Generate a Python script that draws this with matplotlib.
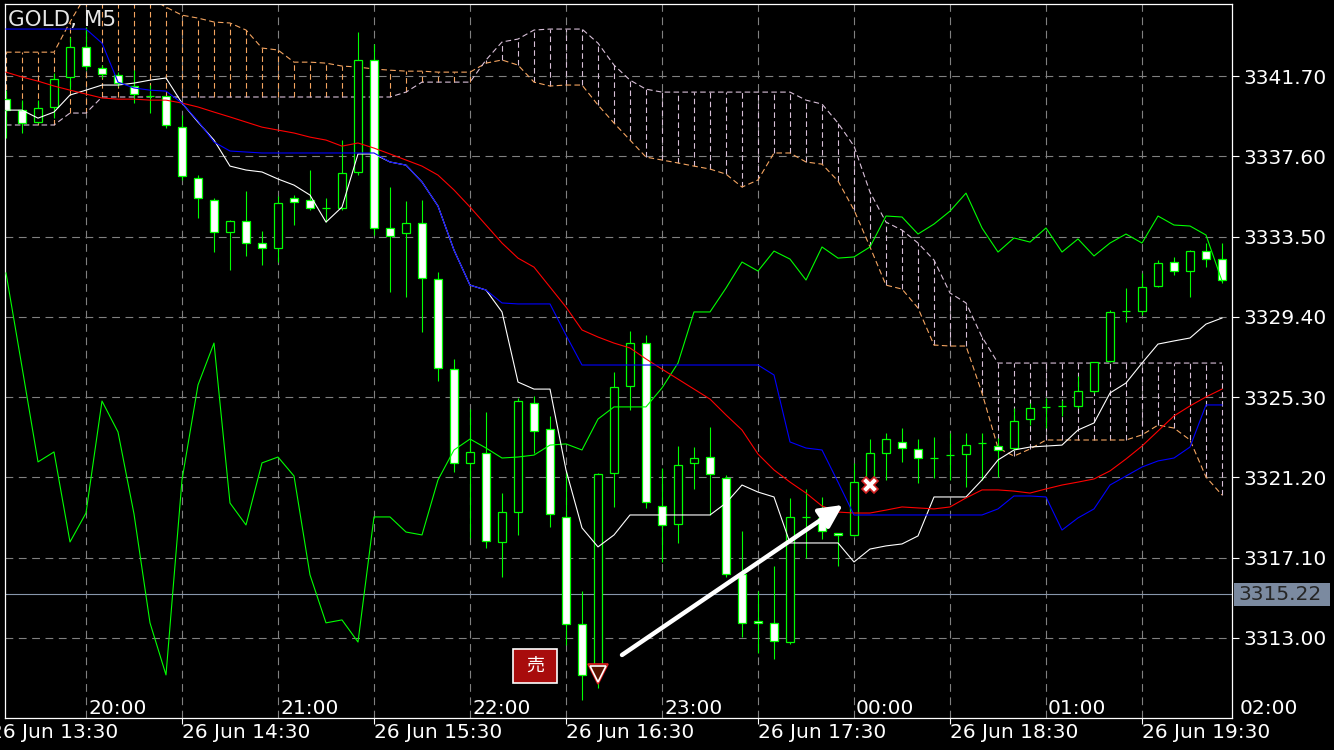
import matplotlib
matplotlib.use("Agg")
import matplotlib.pyplot as plt
from matplotlib.patches import Rectangle
import numpy as np

SYMBOL = "GOLD, M5"

# 5-minute candles, oldest first
opens = [3340.52, 3339.96, 3339.35, 3340.12, 3341.65, 3343.18, 3342.11, 3341.75, 3341.19, 3340.68,
         3340.68, 3339.09, 3336.49, 3335.37, 3333.73, 3334.29, 3333.17, 3332.92, 3335.47, 3335.37,
         3334.96, 3334.96, 3336.80, 3342.52, 3333.94, 3333.68, 3334.19, 3331.33, 3326.73, 3321.94,
         3322.45, 3317.90, 3319.43, 3325.00, 3323.67, 3319.18, 3313.71, 3311.52, 3321.42, 3325.87,
         3328.06, 3319.74, 3318.82, 3321.94, 3322.24, 3321.17, 3316.27, 3313.87, 3313.77, 3312.79,
         3319.18, 3319.13, 3318.36, 3318.26, 3321.07, 3322.45, 3323.01, 3322.65, 3322.19, 3322.34,
         3322.39, 3322.96, 3322.80, 3322.70, 3324.18, 3324.80, 3324.85, 3324.85, 3325.61, 3327.14,
         3329.70, 3329.70, 3330.97, 3332.20, 3331.74, 3332.76, 3332.35]
highs = [3340.98, 3340.47, 3340.47, 3341.85, 3343.69, 3344.20, 3342.26, 3341.90, 3342.00, 3341.24,
         3340.68, 3339.71, 3336.64, 3335.47, 3334.34, 3335.83, 3333.78, 3335.57, 3335.62, 3336.90,
         3335.47, 3338.43, 3343.95, 3343.33, 3336.03, 3335.31, 3335.37, 3331.69, 3327.25, 3324.69,
         3324.54, 3320.40, 3325.25, 3325.36, 3324.34, 3321.48, 3315.40, 3321.42, 3326.58, 3328.68,
         3328.47, 3321.68, 3322.80, 3322.75, 3323.77, 3321.32, 3318.46, 3315.40, 3316.67, 3320.15,
         3320.61, 3320.20, 3318.36, 3321.94, 3323.16, 3323.47, 3323.72, 3323.16, 3323.26, 3323.47,
         3323.47, 3323.47, 3323.21, 3324.74, 3325.00, 3325.25, 3325.15, 3326.38, 3327.09, 3329.75,
         3330.87, 3331.64, 3332.30, 3332.46, 3332.81, 3333.17, 3333.17]
lows = [3338.53, 3338.79, 3339.30, 3339.55, 3340.98, 3342.00, 3341.60, 3341.19, 3340.32, 3339.81,
        3339.04, 3336.39, 3334.45, 3332.71, 3331.79, 3332.51, 3332.05, 3332.20, 3334.09, 3334.86,
        3334.24, 3334.86, 3336.64, 3333.58, 3330.67, 3330.41, 3328.63, 3326.12, 3321.48, 3318.10,
        3317.59, 3316.11, 3318.26, 3322.45, 3318.67, 3312.64, 3309.83, 3310.44, 3319.69, 3324.64,
        3319.64, 3316.88, 3317.85, 3320.61, 3319.28, 3316.11, 3313.05, 3312.23, 3311.92, 3312.69,
        3317.08, 3318.05, 3316.67, 3318.21, 3320.96, 3321.07, 3321.99, 3320.91, 3321.17, 3321.07,
        3320.71, 3321.07, 3321.22, 3322.60, 3323.87, 3323.72, 3324.34, 3324.74, 3325.51, 3327.09,
        3329.14, 3329.49, 3330.92, 3331.54, 3330.41, 3331.94, 3331.13]
closes = [3339.96, 3339.30, 3340.06, 3341.55, 3343.18, 3342.21, 3341.80, 3341.34, 3340.78, 3340.68,
          3339.20, 3336.59, 3335.47, 3333.73, 3334.29, 3333.17, 3332.92, 3335.21, 3335.26, 3334.96,
          3334.96, 3336.75, 3342.52, 3333.94, 3333.53, 3334.19, 3331.38, 3326.79, 3321.94, 3322.50,
          3317.95, 3319.43, 3325.10, 3323.57, 3319.33, 3313.71, 3311.11, 3321.37, 3325.82, 3328.06,
          3319.94, 3318.77, 3321.83, 3322.19, 3321.37, 3316.27, 3313.77, 3313.77, 3312.85, 3319.18,
          3319.18, 3318.46, 3318.26, 3320.96, 3322.45, 3323.16, 3322.70, 3322.19, 3322.19, 3322.34,
          3322.85, 3322.96, 3322.60, 3324.08, 3324.74, 3324.80, 3324.85, 3325.61, 3327.09, 3329.65,
          3329.70, 3330.92, 3332.15, 3331.74, 3332.76, 3332.35, 3331.28]

# indicator lines
moving_avg = [3341.90, 3341.65, 3341.44, 3341.19, 3340.98, 3340.78, 3340.58, 3340.52, 3340.52, 3340.47,
              3340.47, 3340.32, 3340.12, 3339.86, 3339.61, 3339.35, 3339.09, 3338.94, 3338.79, 3338.58,
              3338.43, 3338.12, 3338.28, 3338.02, 3337.72, 3337.41, 3337.10, 3336.64, 3335.88, 3335.01,
              3334.09, 3333.17, 3332.40, 3331.94, 3330.92, 3329.90, 3328.73, 3328.37, 3328.06, 3327.81,
              3327.25, 3326.73, 3326.22, 3325.71, 3325.20, 3324.39, 3323.62, 3322.39, 3321.58, 3320.96,
              3320.40, 3319.74, 3319.43, 3319.38, 3319.38, 3319.53, 3319.69, 3319.64, 3319.59, 3319.69,
              3320.15, 3320.56, 3320.56, 3320.50, 3320.40, 3320.61, 3320.81, 3320.96, 3321.12, 3321.53,
              3322.14, 3322.80, 3323.57, 3324.34, 3324.85, 3325.31, 3325.71]
kijun = [3344.10, 3344.10, 3344.10, 3344.10, 3344.10, 3344.10, 3343.38, 3341.39, 3341.09, 3340.98,
         3340.93, 3340.32, 3339.40, 3338.33, 3337.87, 3337.82, 3337.77, 3337.77, 3337.77, 3337.77,
         3337.77, 3337.77, 3337.77, 3337.77, 3337.31, 3337.15, 3336.29, 3335.06, 3332.81, 3331.02,
         3330.77, 3330.11, 3330.06, 3330.06, 3330.06, 3328.47, 3326.94, 3326.94, 3326.94, 3326.94,
         3326.94, 3326.94, 3326.94, 3326.94, 3326.94, 3326.94, 3326.94, 3326.94, 3326.43, 3323.01,
         3322.70, 3322.60, 3320.96, 3319.28, 3319.28, 3319.28, 3319.28, 3319.28, 3319.28, 3319.28,
         3319.28, 3319.28, 3319.59, 3320.25, 3320.25, 3320.20, 3318.51, 3319.13, 3319.59, 3320.81,
         3321.27, 3321.73, 3322.04, 3322.19, 3322.75, 3324.90, 3324.90]
tenkan = [3339.96, 3339.96, 3339.55, 3339.86, 3340.73, 3340.98, 3341.24, 3341.24, 3341.34, 3341.49,
          3341.60, 3340.32, 3339.35, 3338.43, 3337.10, 3336.90, 3336.80, 3336.44, 3336.13, 3335.62,
          3334.24, 3335.01, 3337.72, 3337.72, 3337.31, 3337.15, 3336.29, 3335.06, 3332.81, 3331.02,
          3330.77, 3329.65, 3326.07, 3325.71, 3325.71, 3321.58, 3318.62, 3317.65, 3318.26, 3319.28,
          3319.28, 3319.28, 3319.28, 3319.28, 3319.28, 3319.89, 3320.81, 3320.45, 3320.20, 3317.85,
          3317.85, 3317.85, 3317.85, 3316.88, 3317.54, 3317.70, 3317.80, 3318.21, 3320.20, 3320.20,
          3320.20, 3321.07, 3322.09, 3322.60, 3322.75, 3322.80, 3322.85, 3323.62, 3323.98, 3325.51,
          3326.02, 3327.04, 3328.01, 3328.17, 3328.32, 3329.03, 3329.34]
chikou = [3331.64, 3326.84, 3321.99, 3322.50, 3317.90, 3319.38, 3325.10, 3323.52, 3319.33, 3313.77,
          3311.11, 3321.07, 3325.92, 3328.06, 3319.89, 3318.77, 3321.94, 3322.24, 3321.27, 3316.22,
          3313.77, 3313.92, 3312.79, 3319.18, 3319.18, 3318.41, 3318.26, 3321.07, 3322.60, 3323.16,
          3322.70, 3322.19, 3322.24, 3322.34, 3322.85, 3322.91, 3322.60, 3324.18, 3324.80, 3324.80,
          3324.80, 3325.77, 3327.04, 3329.65, 3329.65, 3330.87, 3332.20, 3331.74, 3332.76, 3332.35,
          3331.28, 3332.97, 3332.40, 3332.46, 3332.97, 3334.55, 3334.50, 3333.63, 3334.14, 3334.80,
          3335.72, 3333.94, 3332.71, 3333.43, 3333.22, 3333.94, 3332.71, 3333.38, 3332.51, 3333.17,
          3333.63, 3333.17, 3334.55, 3334.09, 3334.04, 3333.58, 3331.23]
span_a = [3342.92, 3342.92, 3342.92, 3342.92, 3344.46, 3345.84, 3346.09, 3346.09, 3345.99, 3345.68,
          3345.22, 3344.81, 3344.66, 3344.46, 3344.41, 3344.05, 3343.13, 3343.03, 3342.41, 3342.41,
          3342.36, 3342.21, 3342.16, 3342.06, 3342.00, 3341.95, 3341.95, 3341.90, 3341.90, 3341.90,
          3342.36, 3342.52, 3342.26, 3341.39, 3341.19, 3341.24, 3341.24, 3340.22, 3339.30, 3338.43,
          3337.56, 3337.41, 3337.26, 3337.10, 3336.95, 3336.69, 3336.03, 3336.39, 3337.77, 3337.77,
          3337.31, 3337.20, 3336.34, 3334.86, 3332.97, 3331.02, 3330.82, 3329.85, 3327.96, 3327.91,
          3327.91, 3325.51, 3322.70, 3322.29, 3322.65, 3323.11, 3323.11, 3323.11, 3323.11, 3323.11,
          3323.11, 3323.37, 3323.87, 3323.72, 3323.11, 3321.22, 3320.30]
span_b = [3339.20, 3339.20, 3339.20, 3339.20, 3339.81, 3339.81, 3340.63, 3340.63, 3340.63, 3340.63,
          3340.63, 3340.63, 3340.63, 3340.63, 3340.63, 3340.63, 3340.63, 3340.63, 3340.63, 3340.63,
          3340.63, 3340.63, 3340.63, 3340.63, 3340.63, 3340.88, 3341.39, 3341.39, 3341.39, 3341.39,
          3342.52, 3343.44, 3343.59, 3344.05, 3344.10, 3344.10, 3344.10, 3343.38, 3342.26, 3341.49,
          3341.03, 3340.88, 3340.88, 3340.88, 3340.88, 3340.88, 3340.88, 3340.88, 3340.88, 3340.88,
          3340.47, 3340.27, 3339.30, 3338.12, 3335.77, 3334.24, 3333.83, 3333.17, 3332.30, 3330.62,
          3330.11, 3328.37, 3327.04, 3327.04, 3327.04, 3327.04, 3327.04, 3327.04, 3327.04, 3327.04,
          3327.04, 3327.04, 3327.04, 3327.04, 3327.04, 3327.04, 3327.04]

price_levels = [3341.70, 3337.60, 3333.50, 3329.40, 3325.30, 3321.20, 3317.10, 3313.00]
bid = 3315.22

server_bars = [-1, 11, 23, 35, 47, 59, 71]
server_labels = ["26 Jun 13:30", "26 Jun 14:30", "26 Jun 15:30", "26 Jun 16:30",
                 "26 Jun 17:30", "26 Jun 18:30", "26 Jun 19:30"]
local_bars = [5, 17, 29, 41, 53, 65, 77]
local_labels = ["20:00", "21:00", "22:00", "23:00", "00:00", "01:00", "02:00"]

# trade marks
sell_bar, sell_price = 37, 3311.16
exit_bar, exit_price = 54, 3320.81
arrow_from = (38.5, 3312.13)
arrow_to = (52.3, 3319.79)
sell_tag = "売"
sell_tag_pos = (33.06, 3311.57)

GREEN = "#00ff00"
SANDY = "#f4a460"
THISTLE = "#d8bfd8"

o = np.array(opens)
c = np.array(closes)
x = np.arange(len(closes))

fig = plt.figure(figsize=(13.34, 7.5), dpi=100, facecolor="black")
ax = fig.add_axes([5/1334, 32/750, 1227/1334, 714/750], facecolor="black")
ax.set_xlim(-0.0625, 76.625)
ax.set_ylim(3308.91, 3345.38)

# grid
ax.set_xticks(server_bars[1:])
ax.set_xticks(local_bars[:-1], minor=True)
ax.set_yticks(price_levels)
ax.set_yticklabels([f"{p:.2f}" for p in price_levels])
ax.yaxis.tick_right()
ax.tick_params(axis="y", length=5, width=0.8, color="white", labelcolor="white",
               labelsize=14.5, pad=3)
ax.tick_params(axis="x", which="major", length=4, width=0.8, color="white", labelbottom=False)
ax.tick_params(axis="x", which="minor", length=0, labelbottom=False)
ax.grid(which="both", color="#808080", lw=0.8, ls=(0, (7, 5)))
ax.set_axisbelow(True)
for s in ax.spines.values():
    s.set_color("white")
    s.set_linewidth(0.9)

# cloud
sa = np.array(span_a)
sb = np.array(span_b)
hatch_col = [SANDY if a >= b else THISTLE for a, b in zip(sa, sb)]
ax.vlines(x, np.minimum(sa, sb), np.maximum(sa, sb), colors=hatch_col, lw=0.8,
          linestyles=(0, (5, 3)), zorder=1)
ax.plot(x, sa, color=SANDY, lw=0.8, ls=(0, (5, 3)), zorder=1.2)
ax.plot(x, sb, color=THISTLE, lw=0.8, ls=(0, (5, 3)), zorder=1.2)

# bid line
ax.axhline(bid, color="#8796ab", lw=0.8, zorder=1.5)

# candles
ax.vlines(x, lows, highs, color=GREEN, lw=0.8, zorder=2)
body_col = ["black" if cc >= oo else "white" for oo, cc in zip(o, c)]
ax.bar(x, np.abs(c - o), bottom=np.minimum(o, c), width=0.5, color=body_col,
       edgecolor=GREEN, linewidth=0.9, zorder=3)

# indicators
ax.plot(x, chikou, color=GREEN, lw=0.8, zorder=4)
ax.plot(x, tenkan, color="white", lw=0.8, zorder=4)
ax.plot(x, moving_avg, color="red", lw=0.8, zorder=4)
ax.plot(x, kijun, color="blue", lw=0.8, zorder=4.5)

# trade marks
ax.annotate("", xy=arrow_to, xytext=arrow_from, zorder=6,
            arrowprops=dict(arrowstyle="-|>,head_length=0.7,head_width=0.35", color="white",
                            lw=3.2, mutation_scale=20, shrinkA=0, shrinkB=0))
ax.plot(sell_bar, sell_price, marker="v", ms=15, mfc="#5a1200", mec="#e02020", mew=1.2, zorder=7)
ax.plot(sell_bar, sell_price, marker="v", ms=11, mfc="#5a1200", mec="white", mew=1.2, zorder=7)
ax.plot(exit_bar, exit_price, marker="X", ms=12, mfc="white", mec="#d02020", mew=1.2, zorder=7)
ax.add_patch(Rectangle((sell_tag_pos[0] - 1.375, sell_tag_pos[1] - 0.87), 2.75, 1.74,
                       fc="#a80c0c", ec="white", lw=1.2, zorder=7))
ax.text(sell_tag_pos[0], sell_tag_pos[1], sell_tag, color="white", fontsize=13,
        family=["Noto Sans CJK JP", "DejaVu Sans"], ha="center", va="center", zorder=8)

# bid label
yt = ax.get_yaxis_transform()
ax.add_patch(Rectangle((1.0016, bid - 0.61), 0.0782, 1.22, transform=yt, clip_on=False,
                       fc="#7b8aa0", ec="none", zorder=5))
ax.text(1.0049, bid, f"{bid:.2f}", transform=yt, color="#262626", fontsize=14.5,
        va="center", ha="left", clip_on=False, zorder=6)

# time labels (the first one runs off the left edge, as on the terminal)
xt = ax.get_xaxis_transform()
for b, lab in zip(server_bars, server_labels):
    ax.text(b, -0.021, lab, transform=xt, color="white", fontsize=14.5,
            ha="left", va="center", clip_on=False)
for b, lab in zip(local_bars, local_labels):
    ax.text(b + 0.125, 0.014, lab, transform=xt, color="white", fontsize=14.5,
            ha="left", va="center", clip_on=False, zorder=6)

fig.text(8/1334, 1 - 20/750, SYMBOL, color="#e6e6e6", fontsize=15.5, ha="left", va="center")

fig.savefig("out.png", dpi=100, facecolor="black")
